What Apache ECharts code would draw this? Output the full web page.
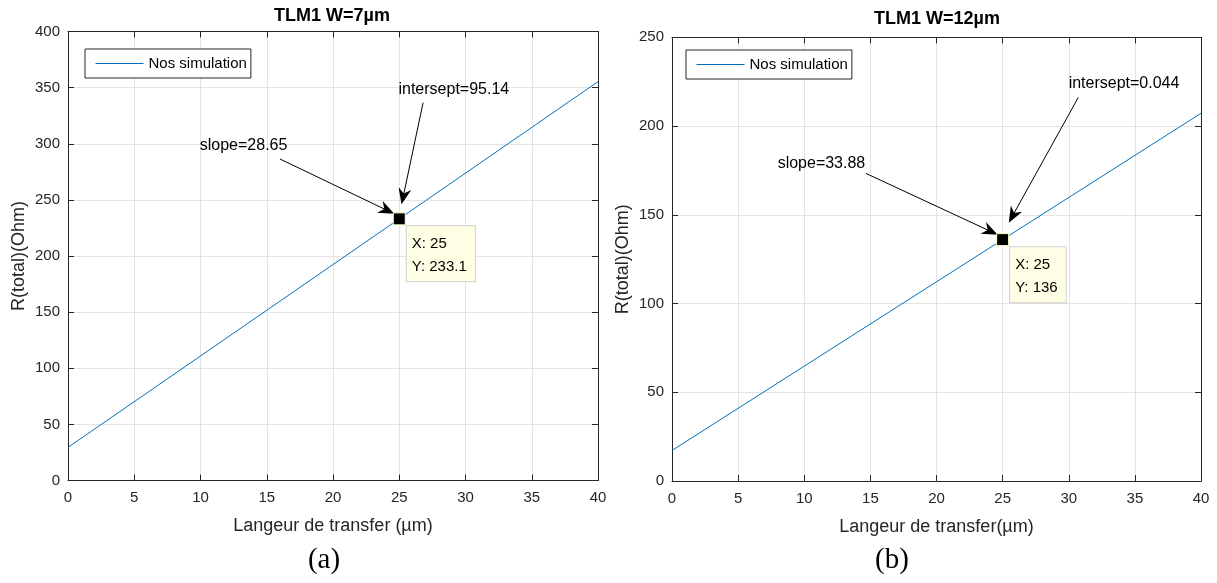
<!DOCTYPE html>
<html>
<head>
<meta charset="utf-8">
<title>TLM1</title>
<script src="https://cdn.jsdelivr.net/npm/echarts@6/dist/echarts.min.js"></script>
<style>
  html, body { margin: 0; padding: 0; background: #ffffff; }
  #chart { width: 1217px; height: 583px; }
</style>
</head>
<body>
<div id="chart"></div>
<script>
// ---- data: panel (a), W = 7 µm ----
const lengthA = [0, 25, 40];            // transfer length (µm)
const resistA = [29.5, 233.1, 355.3];   // R(total) (Ohm)
const tipA = [25, 233.1];
const slopeA = '28.65';
const interceptA = '95.14';

// ---- data: panel (b), W = 12 µm ----
const lengthB = [0, 25, 40];
const resistB = [17.2, 136, 207.2];
const tipB = [25, 136];
const slopeB = '33.88';
const interceptB = '0.044';

// ---- axis ticks ----
const xTicks = [0, 5, 10, 15, 20, 25, 30, 35, 40];
const yTicksA = [0, 50, 100, 150, 200, 250, 300, 350, 400];
const yTicksB = [0, 50, 100, 150, 200, 250];

// annotation anchors in data units: text position, arrow tail, arrow head
const noteA = {
  slopeText: [13.25, 298.3], slopeTail: [16.0, 286.4], slopeHead: [24.08, 240.7],
  icptText: [29.12, 348.5], icptTail: [26.8, 336.6], icptHead: [25.30, 253.0]
};
const noteB = {
  slopeText: [11.3, 178.9], slopeTail: [14.67, 173.3], slopeHead: [24.08, 140.7],
  icptText: [34.18, 224.0], icptTail: [30.72, 216.1], icptHead: [25.76, 149.5]
};

const FONT = '"Liberation Sans", Arial, Helvetica, sans-serif';
const INK = '#262626';
const GRIDLINE = '#e3e3e3';
const LINE = '#0072BD';
// barbed arrow head pointing up (rotated along the line by ECharts)
const ARROW = 'path://M6.5,0 L13,16 L6.5,11 L0,16 Z';

const chart = echarts.init(document.getElementById('chart'), null, { renderer: 'canvas' });

function xAxes(gridIndex, ticks, name) {
  const min = ticks[0], max = ticks[ticks.length - 1], interval = ticks[1] - ticks[0];
  const common = {
    type: 'value', gridIndex, min, max, interval,
    axisLine: { show: true, onZero: false, lineStyle: { color: INK, width: 1 } },
    axisTick: { show: true, inside: true, length: 6, lineStyle: { color: INK } }
  };
  return [
    Object.assign({}, common, {
      position: 'bottom',
      name, nameLocation: 'middle', nameGap: 37,
      nameTextStyle: { fontFamily: FONT, fontSize: 18, color: INK },
      axisLabel: { show: true, margin: 10, fontFamily: FONT, fontSize: 15, color: INK, showMinLabel: true, showMaxLabel: true },
      splitLine: { show: true, lineStyle: { color: GRIDLINE, width: 1 } }
    }),
    Object.assign({}, common, {
      position: 'top',
      axisLabel: { show: false },
      splitLine: { show: false }
    })
  ];
}

function yAxes(gridIndex, ticks, name) {
  const min = ticks[0], max = ticks[ticks.length - 1], interval = ticks[1] - ticks[0];
  const common = {
    type: 'value', gridIndex, min, max, interval,
    axisLine: { show: true, onZero: false, lineStyle: { color: INK, width: 1 } },
    axisTick: { show: true, inside: true, length: 6, lineStyle: { color: INK } }
  };
  return [
    Object.assign({}, common, {
      position: 'left',
      name, nameLocation: 'middle', nameGap: 40,
      nameTextStyle: { fontFamily: FONT, fontSize: 18, color: INK },
      axisLabel: { show: true, margin: 8, fontFamily: FONT, fontSize: 15, color: INK, showMinLabel: true, showMaxLabel: true },
      splitLine: { show: true, lineStyle: { color: GRIDLINE, width: 1 } }
    }),
    Object.assign({}, common, {
      position: 'right',
      axisLabel: { show: false },
      splitLine: { show: false }
    })
  ];
}

function panelSeries(axisIdx, xs, ys, tip, note, slope, icpt) {
  const textLabel = { show: true, position: 'inside', color: '#000', fontFamily: FONT, fontSize: 16 };
  return [
    {
      type: 'line', name: 'Nos simulation',
      xAxisIndex: axisIdx, yAxisIndex: axisIdx,
      data: xs.map((x, i) => [x, ys[i]]),
      symbol: 'none', silent: true,
      lineStyle: { color: LINE, width: 1 },
      itemStyle: { color: LINE },
      markLine: {
        silent: true, animation: false,
        symbol: ['none', ARROW], symbolSize: [13, 16],
        lineStyle: { color: '#000', width: 1, type: 'solid' },
        itemStyle: { color: '#000' },
        label: { show: false },
        data: [
          [{ coord: note.slopeTail }, { coord: note.slopeHead }],
          [{ coord: note.icptTail }, { coord: note.icptHead }]
        ]
      },
      markPoint: {
        silent: true, animation: false,
        symbol: 'circle', symbolSize: 1,
        itemStyle: { color: 'rgba(0,0,0,0)' },
        label: textLabel,
        data: [
          { coord: note.slopeText, label: { formatter: 'slope=' + slope } },
          { coord: note.icptText, label: { formatter: 'intersept=' + icpt } }
        ]
      }
    },
    {
      type: 'scatter', name: 'datatip',
      xAxisIndex: axisIdx, yAxisIndex: axisIdx,
      data: [tip], silent: true, z: 5,
      symbol: 'rect', symbolSize: 12,
      itemStyle: { color: '#000', borderColor: '#ffffc8', borderWidth: 1, opacity: 1 },
      label: {
        show: true, position: [14, 14],
        formatter: p => 'X: ' + p.value[0] + '\nY: ' + p.value[1],
        fontFamily: FONT, fontSize: 15, color: '#000', lineHeight: 23,
        align: 'left', verticalAlign: 'top',
        backgroundColor: '#ffffe6', borderColor: '#cfcfcf', borderWidth: 1,
        padding: [6, 8, 3, 5]
      }
    }
  ];
}

const legendStyle = {
  orient: 'vertical', itemWidth: 48, itemHeight: 14, itemGap: 0,
  padding: [7, 4, 7, 10],
  borderColor: INK, borderWidth: 1, backgroundColor: '#ffffff',
  textStyle: { fontFamily: FONT, fontSize: 15, color: '#000' },
  itemStyle: { opacity: 0 },
  lineStyle: { color: LINE, width: 1, opacity: 1 },
  selectedMode: false,
  data: ['Nos simulation']
};

const option = {
  backgroundColor: '#ffffff',
  animation: false,
  title: [
    { text: 'TLM1 W=7µm', left: 332, top: 7, textAlign: 'center', padding: 0,
      textStyle: { fontFamily: FONT, fontSize: 18, fontWeight: 'bold', color: '#000' } },
    { text: 'TLM1 W=12µm', left: 937, top: 10, textAlign: 'center', padding: 0,
      textStyle: { fontFamily: FONT, fontSize: 18, fontWeight: 'bold', color: '#000' } }
  ],
  grid: [
    { left: 68, top: 31.5, width: 530, height: 449, containLabel: false },
    { left: 672, top: 37.3, width: 529, height: 443.7, containLabel: false }
  ],
  legend: [
    Object.assign({}, legendStyle, { left: 85, top: 49 }),
    Object.assign({}, legendStyle, { left: 686, top: 50 })
  ],
  xAxis: [
    ...xAxes(0, xTicks, 'Langeur de transfer (µm)'),
    ...xAxes(1, xTicks, 'Langeur de transfer(µm)')
  ],
  yAxis: [
    ...yAxes(0, yTicksA, 'R(total)(Ohm)'),
    ...yAxes(1, yTicksB, 'R(total)(Ohm)')
  ],
  series: [
    ...panelSeries(0, lengthA, resistA, tipA, noteA, slopeA, interceptA),
    ...panelSeries(2, lengthB, resistB, tipB, noteB, slopeB, interceptB)
  ],
  graphic: [
    { type: 'text', x: 324, y: 560, silent: true,
      style: { text: '(a)', font: '29px "Liberation Serif", "Times New Roman", serif', fill: '#000', align: 'center', verticalAlign: 'middle' } },
    { type: 'text', x: 892, y: 560, silent: true,
      style: { text: '(b)', font: '29px "Liberation Serif", "Times New Roman", serif', fill: '#000', align: 'center', verticalAlign: 'middle' } }
  ]
};

chart.setOption(option);
</script>
</body>
</html>
